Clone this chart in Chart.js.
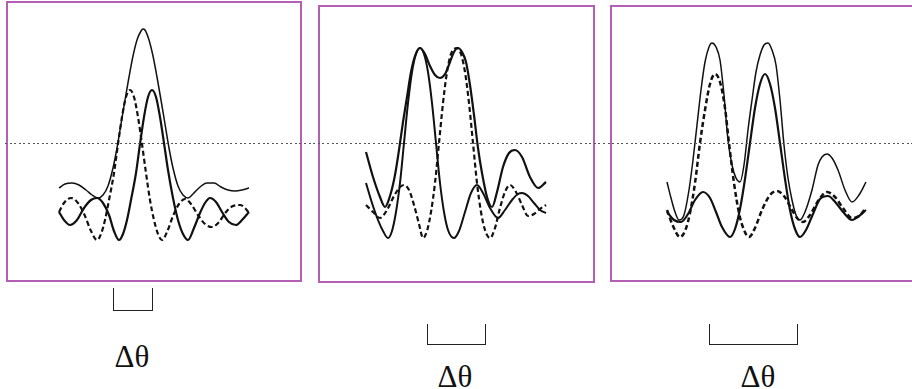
<!DOCTYPE html>
<html>
<head>
<meta charset="utf-8">
<script src="https://cdn.jsdelivr.net/npm/chart.js@4.4.1/dist/chart.umd.min.js"></script>
<style>
  html, body { margin: 0; padding: 0; background: #fff; }
  body { width: 912px; height: 389px; position: relative; overflow: hidden; }
  .panel { position: absolute; box-sizing: border-box; border: 2px solid #b45fb4; }
  .panel canvas { display: block; }
  .dots { position: absolute; left: 5px; top: 143px; width: 907px; height: 1px;
          background-image: repeating-linear-gradient(to right, #555 0 2px, transparent 2px 4.6px); }
  .bracket { position: absolute; box-sizing: border-box; border: 1.5px solid #222; border-top: none; }
  .label { position: absolute; font-family: "Liberation Serif", "DejaVu Serif", serif; font-size: 31px;
           line-height: 1; color: #111; transform: translate(-50%, -50%); white-space: nowrap; }
</style>
</head>
<body>
<div class="panel" id="w1" style="left:6px; top:1px; width:296px; height:281px;"><canvas id="c1" width="292" height="277"></canvas></div>
<div class="panel" id="w2" style="left:318px; top:5px; width:277px; height:278px;"><canvas id="c2" width="273" height="274"></canvas></div>
<div class="panel" id="w3" style="left:610px; top:5px; width:320px; height:277px;"><canvas id="c3" width="316" height="273"></canvas></div>
<div class="dots"></div>

<div class="bracket" style="left:113px; top:288px; width:40px; height:23px;"></div>
<div class="bracket" style="left:427px; top:324px; width:59px; height:21px;"></div>
<div class="bracket" style="left:709px; top:324px; width:89px; height:21px;"></div>
<div class="label" style="left:132px; top:356px;">Δθ</div>
<div class="label" style="left:455px; top:376px;">Δθ</div>
<div class="label" style="left:758px; top:376px;">Δθ</div>

<script>
// angle offset (arb. units) / intensity (arb. units)

// panel 1: unresolved pair
const p1Sum = [[-82,52],[-76,56],[-69,57],[-62,55],[-55,50],[-49,45],[-43,42],[-38,45],[-33,54],[-28,72],[-24,92],[-20,116],[-16,140],[-12,163],[-8,184],[-4,200],[0,209],[2,211],[4,210],[8,200],[12,184],[16,163],[20,140],[24,116],[28,92],[32,72],[37,54],[42,45],[47,42],[52,46],[59,53],[66,57],[73,57],[80,53],[87,50],[94,49],[101,50],[108,52]];
const p1Left = [[-82,28],[-77,37],[-70,42],[-63,37],[-56,24],[-50,9],[-44,0],[-40,6],[-36,20],[-32,40],[-27,67],[-23,96],[-19,123],[-15,143],[-11,150],[-7,143],[-3,123],[1,96],[5,67],[9,40],[13,20],[17,6],[21,0],[26,8],[32,24],[38,36],[44,41],[50,36],[57,25],[64,16],[71,13],[78,18],[85,28],[92,34],[99,35],[104,32],[108,27]];
const p1Right = [[-82,28],[-77,20],[-71,15],[-64,20],[-57,32],[-50,40],[-44,42],[-38,37],[-32,25],[-27,9],[-22,0],[-18,6],[-14,20],[-10,40],[-5,67],[-1,96],[3,123],[7,143],[11,150],[15,143],[19,123],[23,97],[27,70],[32,42],[37,20],[42,6],[47,0],[53,12],[59,27],[64,37],[69,42],[75,38],[81,28],[88,18],[95,15],[101,20],[108,28]];

// panel 2: just resolved
const p2Sum = [[-72,86],[-65,61],[-58,41],[-53,31],[-48,42],[-43,63],[-39,88],[-35,116],[-31,141],[-27,166],[-23,182],[-18,190],[-13,184],[-8,172],[-3,163],[2,160],[7,164],[12,176],[16,186],[20,190],[24,186],[28,176],[32,153],[36,123],[40,90],[44,65],[49,41],[54,31],[59,46],[65,71],[71,85],[77,88],[84,81],[92,61],[100,50],[108,56]];
const p2Left = [[-72,55],[-66,35],[-60,18],[-55,7],[-50,0],[-46,7],[-42,26],[-38,55],[-34,95],[-30,135],[-26,166],[-22,184],[-18,190],[-14,184],[-10,166],[-6,135],[-2,95],[2,55],[6,26],[10,8],[16,0],[21,7],[27,26],[33,45],[39,53],[45,45],[52,30],[60,20],[67,28],[74,38],[80,44],[84,45],[90,42],[96,35],[102,28],[108,25]];
const p2Right = [[-72,33],[-65,26],[-58,20],[-51,28],[-44,42],[-38,51],[-34,53],[-29,48],[-24,33],[-19,14],[-15,0],[-11,7],[-7,26],[-3,55],[1,95],[5,135],[9,166],[13,184],[19,190],[23,184],[27,166],[31,135],[35,95],[39,55],[43,26],[47,8],[52,0],[57,10],[62,30],[67,46],[72,53],[78,46],[84,33],[90,22],[96,24],[102,29],[108,33]];

// panel 3: well resolved
const p3Sum = [[-73,55],[-69,39],[-65,25],[-61,17],[-56,22],[-51,47],[-47,77],[-43,112],[-39,147],[-35,175],[-31,190],[-28,194],[-24,190],[-20,177],[-16,142],[-12,97],[-8,72],[-4,59],[0,55],[4,72],[8,107],[12,137],[16,165],[20,182],[24,192],[28,194],[32,187],[36,172],[40,137],[44,92],[48,59],[52,37],[56,22],[60,17],[65,25],[72,47],[78,72],[82,80],[87,83],[92,79],[98,67],[105,47],[112,35],[119,42],[126,55]];
const p3Left = [[-73,27],[-67,11],[-60,0],[-55,6],[-50,24],[-45,54],[-40,94],[-35,127],[-30,153],[-25,163],[-20,155],[-15,129],[-11,94],[-6,54],[-1,24],[4,7],[9,0],[15,9],[22,27],[30,42],[37,46],[44,41],[51,29],[57,19],[63,15],[70,22],[78,36],[87,45],[95,40],[103,29],[112,19],[119,21],[126,29]];
const p3Right = [[-73,25],[-66,17],[-59,15],[-52,23],[-45,37],[-37,45],[-30,39],[-24,25],[-18,10],[-10,0],[-5,8],[0,28],[5,58],[10,94],[15,129],[20,153],[25,163],[30,153],[35,129],[40,94],[45,58],[50,27],[55,8],[60,0],[66,7],[73,23],[80,38],[88,41],[96,34],[104,24],[112,17],[119,21],[126,27]];

const INK = '#111';

function toPoints(arr) {
    return arr.map(p => ({ x: p[0], y: p[1] }));
}

function curve(arr, width, dash) {
    return {
        data: toPoints(arr),
        borderColor: INK,
        borderWidth: width,
        borderDash: dash || [],
        pointRadius: 0,
        fill: false,
        cubicInterpolationMode: 'monotone'
    };
}

function makePanel(id, datasets, xr, yr) {
    return new Chart(document.getElementById(id), {
        type: 'line',
        data: { datasets: datasets },
        options: {
            responsive: false,
            animation: false,
            layout: { padding: 0 },
            plugins: { legend: { display: false }, tooltip: { enabled: false } },
            scales: {
                x: { type: 'linear', display: false, min: xr[0], max: xr[1] },
                y: { type: 'linear', display: false, min: yr[0], max: yr[1] }
            }
        }
    });
}

makePanel('c1', [
    curve(p1Sum, 1.5),
    curve(p1Left, 2.2, [5, 3]),
    curve(p1Right, 2.2)
], [-133, 159], [-40, 237]);

makePanel('c2', [
    curve(p2Sum, 2.2),
    curve(p2Left, 2),
    curve(p2Right, 2.2, [5, 3])
], [-118, 155], [-43, 231]);

makePanel('c3', [
    curve(p3Sum, 1.5),
    curve(p3Left, 2.5, [5, 3]),
    curve(p3Right, 2.2)
], [-128, 188], [-43, 230]);
</script>
</body>
</html>
